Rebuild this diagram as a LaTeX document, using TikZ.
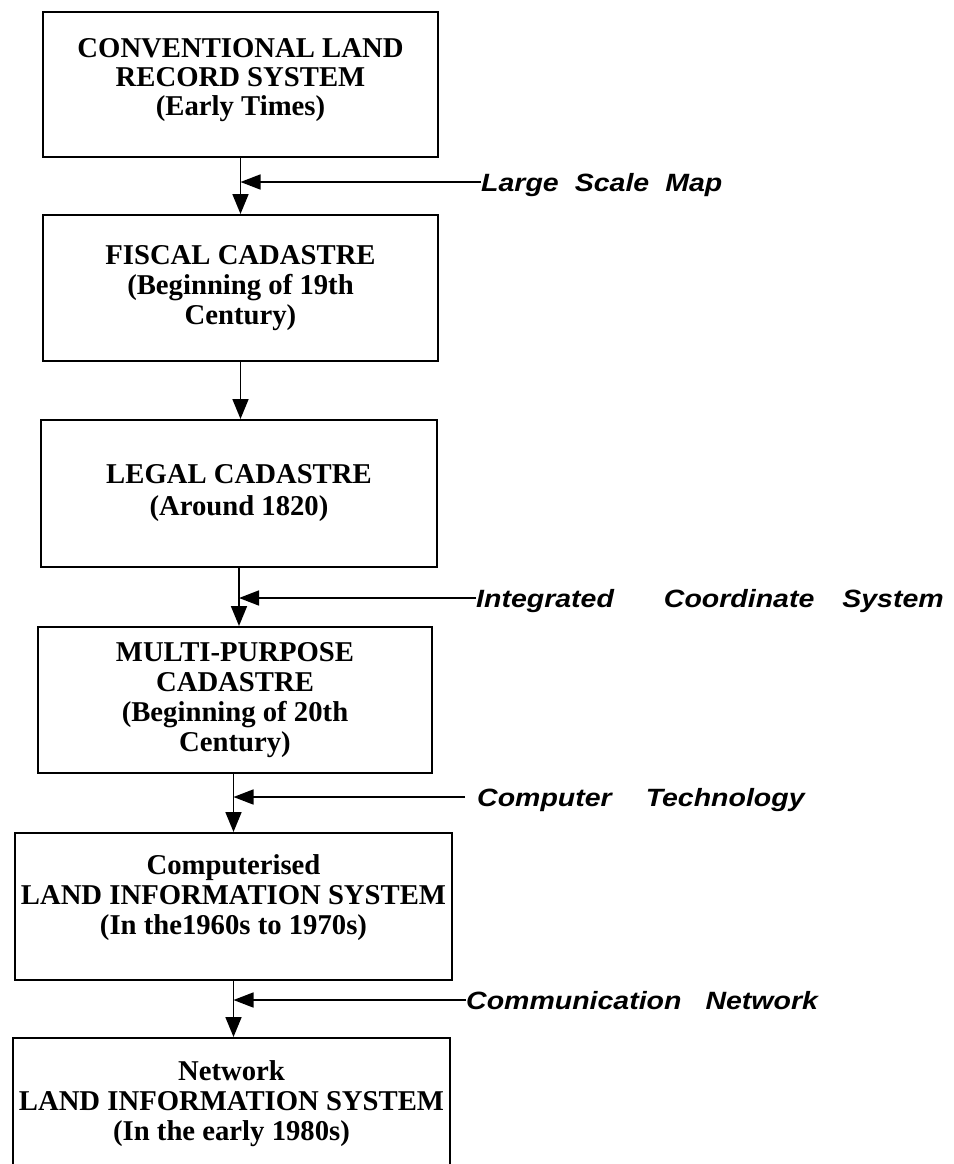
\documentclass[tikz,border=0pt]{standalone}
\usepackage{fontspec}
\usetikzlibrary{arrows.meta}
% serif for the stage boxes, slightly extended sans for the side inputs
\newfontfamily\boxfont{Liberation Serif}
\newfontfamily\tagfont{Liberation Sans}[FakeStretch=1.14]

\tikzset{
  stage/.style={draw, line width=2pt, inner sep=0pt, align=center,
    font=\boxfont\bfseries\fontsize{28.7}{30}\selectfont,
    execute at begin node={\lineskiplimit=-100pt\relax}},
  flow/.style={line width=1.8pt, -{Triangle[length=20pt,width=16pt]}},
  feed/.style={line width=1.6pt, -{Triangle[length=20pt,width=15pt]}},
  tag/.style={anchor=west, inner sep=0pt, text height=18pt, text depth=0pt,
    font=\tagfont\bfseries\itshape\fontsize{25}{26}\selectfont},
}

\begin{document}
\begin{tikzpicture}[x=1pt, y=-1pt]
  \useasboundingbox (0,0) rectangle (953,1164);
  \clip (0,0) rectangle (953,1164);

  % stages of cadastral development
  \node[stage, minimum width=395pt, minimum height=145pt] (b1) at (240.5,84.5)
    {CONVENTIONAL LAND\\[-1pt]RECORD SYSTEM\\[-1pt](Early Times)\\[-14pt]\mbox{}};
  \node[stage, minimum width=395pt, minimum height=146pt] (b2) at (240.5,288)
    {FISCAL CADASTRE\\(Beginning of 19th\\Century)};
  \node[stage, minimum width=396pt, minimum height=147pt] (b3) at (239,493.5)
    {LEGAL CADASTRE\\[2pt](Around 1820)};
  \node[stage, minimum width=394pt, minimum height=146pt] (b4) at (235,700)
    {MULTI-PURPOSE\\CADASTRE\\(Beginning of 20th\\Century)};
  \node[stage, minimum width=437pt, minimum height=147pt] (b5) at (233.5,906.5)
    {Computerised\\LAND INFORMATION SYSTEM\\(In the1960s to 1970s)\\[-6pt]\mbox{}};
  \node[stage, minimum width=437pt, minimum height=131pt] (b6) at (231.5,1103.5)
    {Network\\LAND INFORMATION SYSTEM\\(In the early 1980s)};

  % side inputs
  \node[tag] (t1) at (481,182) {Large\hspace{16pt}Scale\hspace{16pt}Map};
  \node[tag] (t2) at (476,598) {Integrated\hspace{50pt}Coordinate\hspace{28pt}System};
  \node[tag] (t3) at (477,797) {Computer\hspace{34pt}Technology};
  \node[tag] (t4) at (466,1000) {Communication\hspace{24pt}Network};

  % main flow
  \draw[flow] (b1.south) -- (b1.south |- b2.north);
  \draw[flow] (b2.south) -- (b2.south |- b3.north);
  \draw[flow] (b3.south) -- (b3.south |- b4.north);
  \draw[flow] (b5.north |- b4.south) -- (b5.north);
  \draw[flow] (b5.south) -- (b5.south |- b6.north);

  % inputs joining the flow
  \draw[feed] (t1.west) -- (t1.west -| b1.south);
  \draw[feed] (t2.west) -- (t2.west -| b3.south);
  \draw[feed, shorten <=12pt] (t3.west) -- (t3.west -| b5.north);
  \draw[feed] (t4.west) -- (t4.west -| b5.south);
\end{tikzpicture}
\end{document}
